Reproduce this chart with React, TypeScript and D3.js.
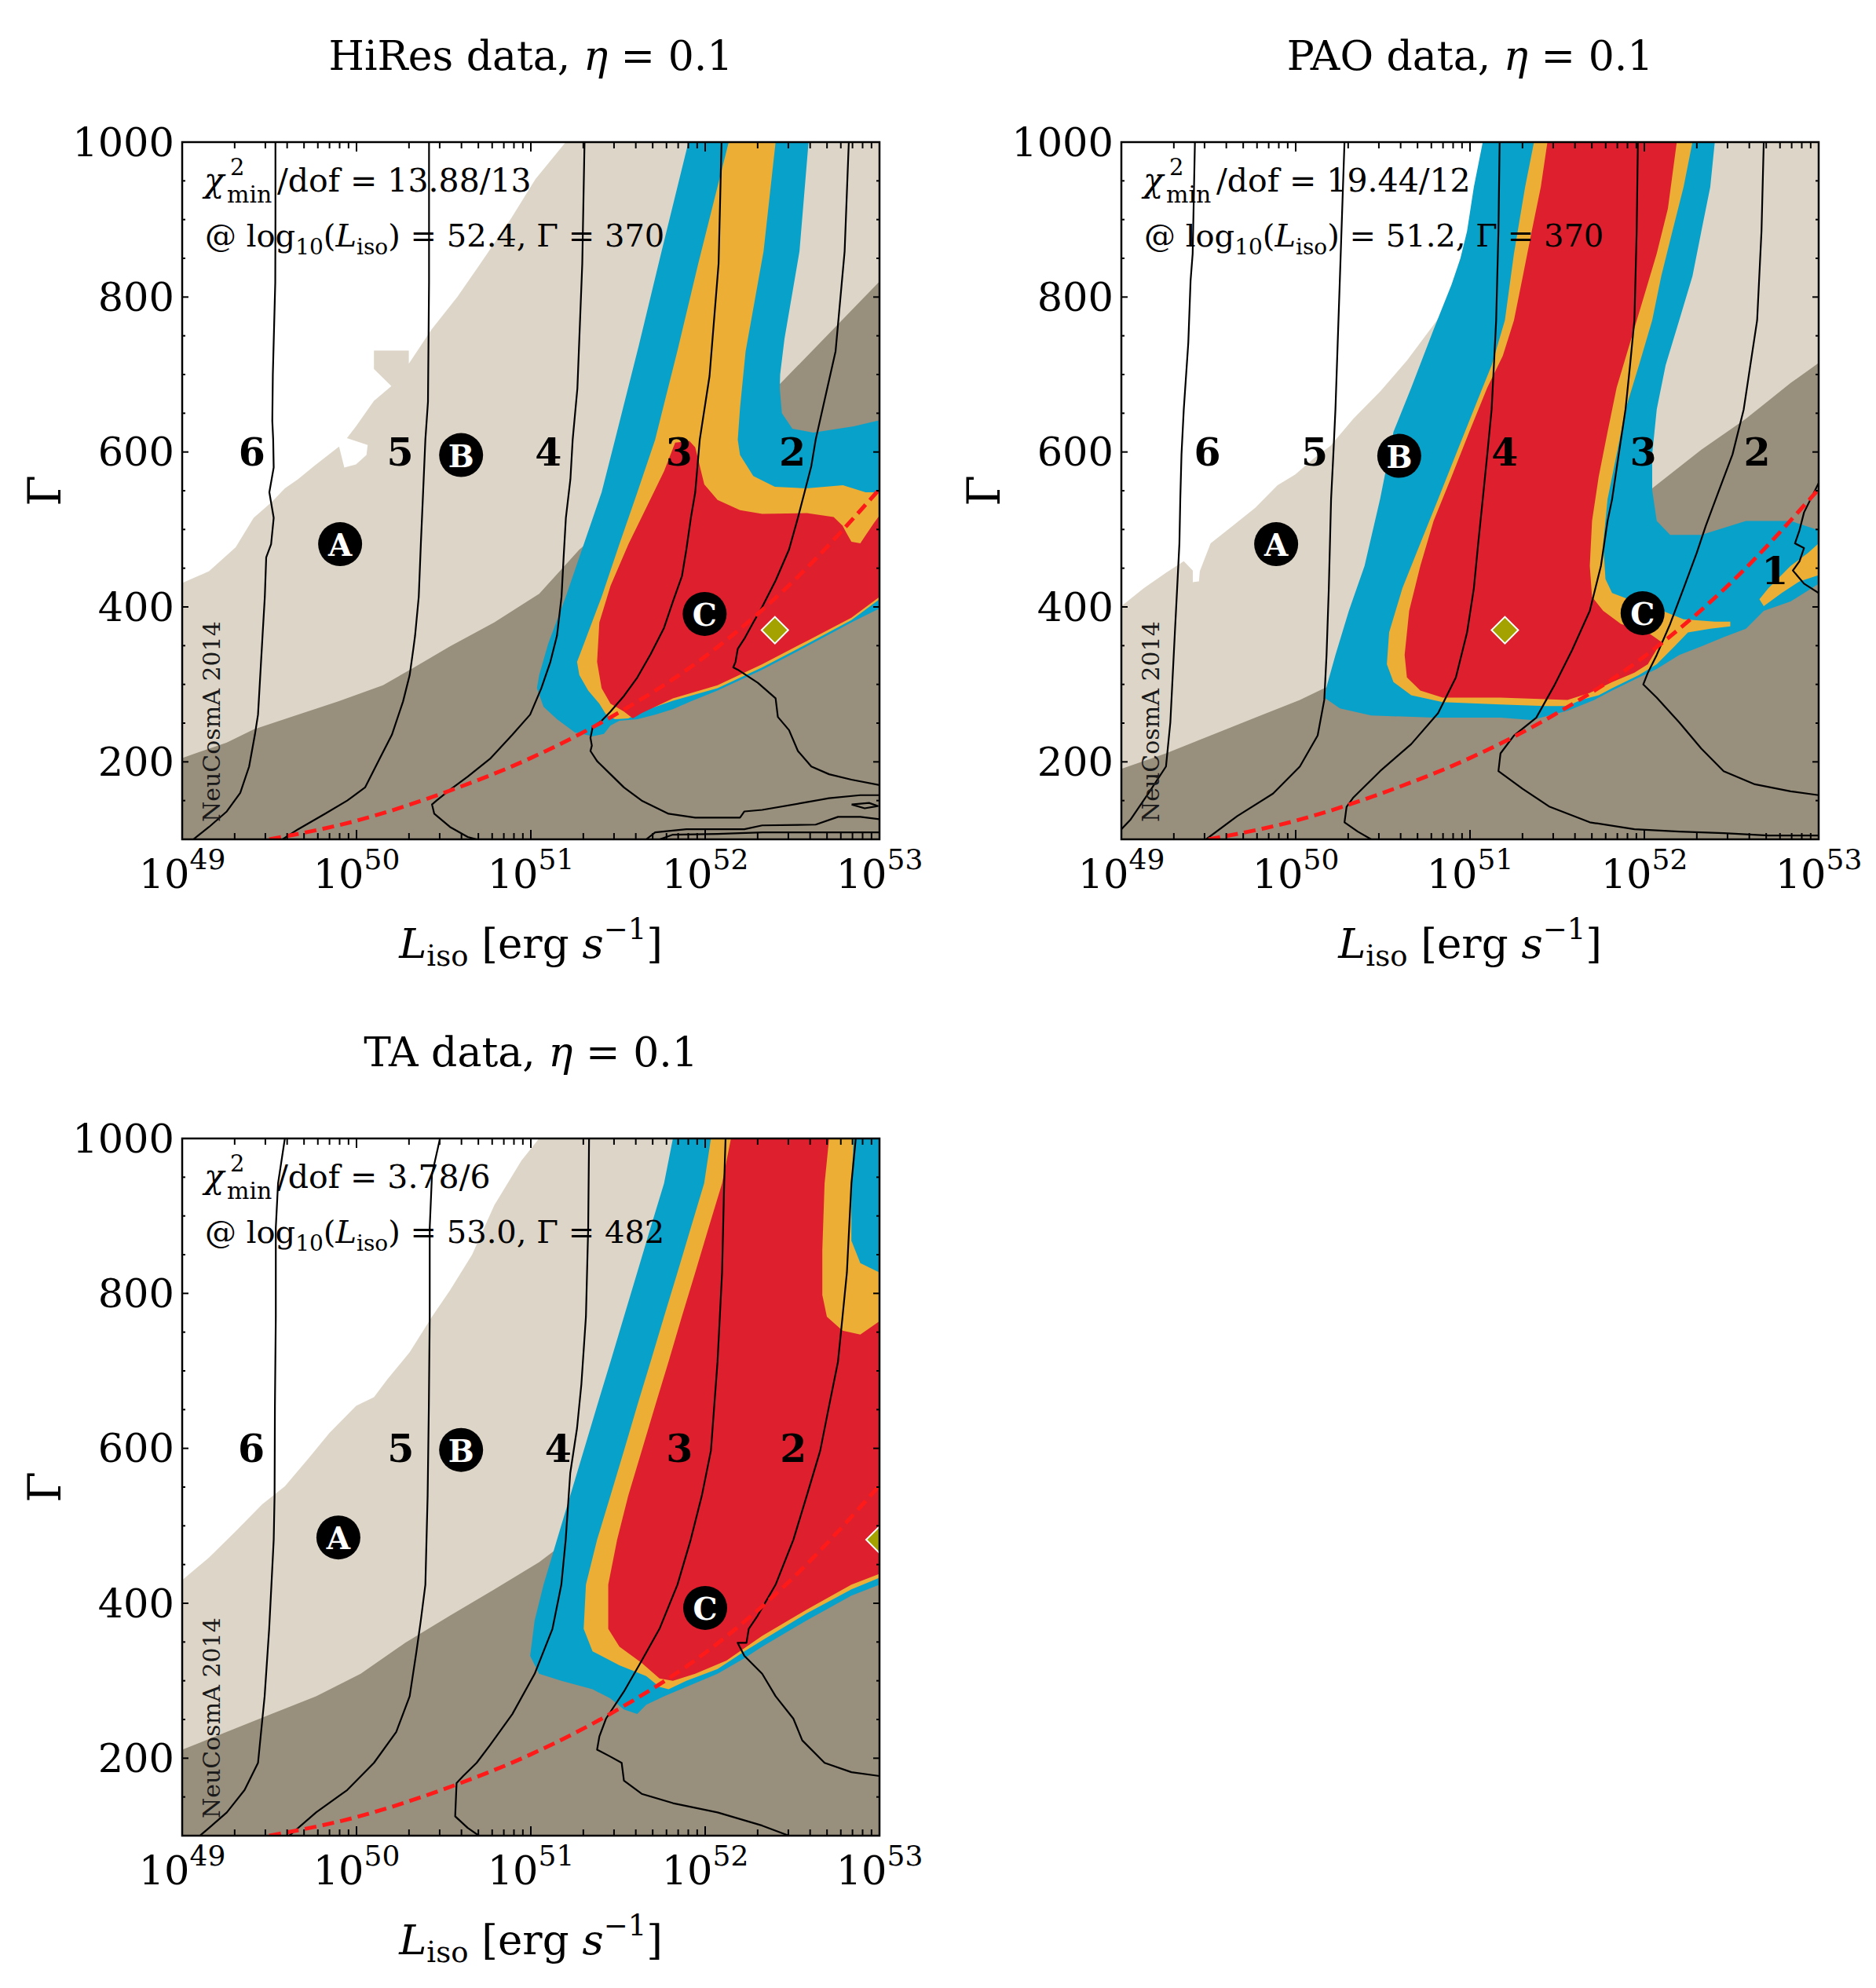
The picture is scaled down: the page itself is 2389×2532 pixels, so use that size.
import { useEffect, useRef } from 'react'
import * as d3 from 'd3'

// points are [log10(L_iso), Gamma]
type Pt = [number, number]
type Tag = [string, number, number]

const FONT = '"DejaVu Serif", "Liberation Serif", serif'
const SIZE = 888

const xDecades = [49, 50, 51, 52, 53]
const yLabels = [200, 400, 600, 800, 1000]
const yTicks = [100, 150, 200, 250, 300, 350, 400, 450, 500, 550, 600, 650, 700, 750, 800, 850, 900, 950, 1000]

// red dashed curve, same in every panel
const dashedCurve: Pt[] = [[49.5, 100], [50, 124], [50.5, 160], [51, 205], [51.5, 263], [52, 336], [52.5, 432], [53, 552]]

// ---------- HiRes ----------
const hiresBeige: Pt[] = [[49, 431], [49.154, 446], [49.307, 477], [49.41, 515], [49.512, 535], [49.589, 553], [49.665, 565], [49.757, 582], [49.9, 607], [49.93, 580], [49.997, 584], [50.057, 596], [50.064, 609], [49.945, 618], [49.997, 633], [50.1, 666], [50.2, 685], [50.1, 707], [50.1, 731], [50.3, 731], [50.3, 714], [50.43, 758], [50.578, 800], [50.716, 845], [50.888, 902], [51.026, 952], [51.2, 1000], [53, 1000], [53, 100], [49, 100]]
const hiresDark: Pt[] = [[49, 100], [49, 205], [49.256, 225], [49.41, 242], [49.64, 259], [49.896, 278], [50.152, 299], [50.331, 322], [50.536, 349], [50.79, 380], [51.048, 417], [51.278, 474], [51.8, 575], [52.43, 688], [53, 820], [53, 100]]
const hiresBlue: Pt[] = [[51.904, 1000], [51.75, 859], [51.62, 738], [51.483, 616], [51.406, 548], [51.304, 481], [51.2, 413], [51.099, 352], [51.048, 312], [51.035, 295], [51.073, 271], [51.15, 255], [51.252, 238], [51.355, 233], [51.419, 236], [51.457, 247], [51.508, 253], [51.611, 255], [51.713, 261], [51.815, 268], [51.918, 278], [52.071, 292], [52.327, 319], [52.583, 349], [52.839, 380], [53, 398], [53, 641], [52.852, 633], [52.62, 625], [52.5, 630], [52.44, 650], [52.428, 682], [52.43, 700], [52.455, 746], [52.541, 859], [52.593, 1000]]
const hiresOrange: Pt[] = [[52.135, 1000], [51.96, 843], [51.84, 730], [51.713, 616], [51.611, 548], [51.508, 481], [51.406, 413], [51.304, 352], [51.265, 329], [51.278, 312], [51.329, 292], [51.393, 275], [51.432, 261], [51.483, 255], [51.56, 256], [51.636, 265], [51.815, 279], [52.071, 295], [52.327, 322], [52.583, 352], [52.839, 383], [53, 410], [53, 548], [52.92, 548], [52.79, 557], [52.58, 553], [52.4, 555], [52.276, 569], [52.2, 596], [52.187, 616], [52.2, 657], [52.232, 730], [52.335, 859], [52.404, 1000]]
const hiresRed: Pt[] = [[51.87, 613], [51.828, 612], [51.764, 575], [51.662, 528], [51.56, 481], [51.457, 427], [51.393, 380], [51.38, 329], [51.406, 295], [51.457, 275], [51.534, 265], [51.585, 256], [51.636, 263], [51.815, 282], [52.071, 299], [52.327, 326], [52.583, 356], [52.839, 386], [53, 413], [53, 518], [52.967, 508], [52.916, 491], [52.89, 482], [52.839, 484], [52.814, 494], [52.788, 505], [52.737, 516], [52.583, 521], [52.327, 520], [52.2, 525], [52.071, 538], [51.995, 558], [51.969, 582], [51.943, 606], [51.91, 614]]

const hiresC6: Pt[] = [[49.535, 1000], [49.535, 900], [49.534, 819], [49.52, 700], [49.517, 640], [49.522, 616], [49.525, 580], [49.5, 548], [49.525, 515], [49.51, 481], [49.482, 464], [49.474, 413], [49.461, 363], [49.448, 312], [49.435, 261], [49.417, 235], [49.384, 194], [49.333, 160], [49.256, 136], [49.154, 116], [49.064, 100]]
const hiresC5: Pt[] = [[50.416, 1000], [50.416, 819], [50.41, 665], [50.395, 616], [50.382, 548], [50.369, 481], [50.357, 413], [50.336, 363], [50.326, 346], [50.305, 312], [50.267, 278], [50.203, 235], [50.126, 201], [50.049, 167], [49.947, 150], [49.819, 133], [49.665, 113], [49.576, 100]]
const hiresC4: Pt[] = [[51.308, 1000], [51.295, 843], [51.267, 682], [51.24, 616], [51.227, 565], [51.201, 515], [51.188, 464], [51.176, 413], [51.15, 363], [51.112, 329], [51.06, 295], [50.996, 261], [50.894, 235], [50.766, 204], [50.638, 181], [50.536, 164], [50.459, 150], [50.433, 145], [50.446, 133], [50.536, 116], [50.638, 103], [50.689, 100]]
const hiresC3: Pt[] = [[52.094, 1000], [52.077, 843], [52.025, 698], [51.969, 616], [51.956, 582], [51.943, 548], [51.918, 515], [51.892, 474], [51.867, 440], [51.815, 407], [51.764, 373], [51.687, 339], [51.611, 309], [51.534, 285], [51.457, 265], [51.406, 253], [51.355, 245], [51.342, 231], [51.35, 221], [51.342, 214], [51.38, 201], [51.457, 184], [51.534, 167], [51.636, 150], [51.79, 133], [51.943, 128], [52.2, 128], [52.225, 136], [52.327, 138], [52.583, 148], [52.71, 153], [52.89, 157], [53, 157]]
const hiresC2: Pt[] = [[52.824, 1000], [52.8, 859], [52.748, 730], [52.634, 616], [52.609, 582], [52.57, 548], [52.532, 515], [52.481, 474], [52.404, 434], [52.327, 400], [52.276, 380], [52.225, 359], [52.187, 346], [52.174, 329], [52.161, 322], [52.187, 319], [52.302, 302], [52.404, 282], [52.417, 258], [52.481, 241], [52.532, 214], [52.609, 194], [52.711, 184], [52.839, 177], [53, 170]]
const hiresLowA: Pt[] = [[51.662, 100], [51.713, 109], [51.892, 113], [52.225, 113], [52.327, 118], [52.634, 119], [52.762, 129], [52.89, 129], [53, 126]]
const hiresLowB: Pt[] = [[51.74, 100], [51.815, 106], [52.07, 107], [52.33, 109], [53, 109]]
const hiresLoop: Pt[] = [[52.84, 145], [52.94, 147], [52.99, 143], [52.915, 140], [52.84, 145]]

const hiresNumbers: Tag[] = [['6', 49.40, 600], ['5', 50.25, 600], ['4', 51.10, 600], ['3', 51.85, 600], ['2', 52.50, 600]]
const hiresCircles: Tag[] = [['A', 49.906, 481], ['B', 50.60, 596], ['C', 51.997, 391]]
const hiresFit: Pt = [52.4, 370]

// ---------- PAO ----------
const paoBeige: Pt[] = [[49, 401], [49.128, 424], [49.256, 444], [49.358, 459], [49.41, 447], [49.41, 432], [49.445, 433], [49.45, 446], [49.512, 482], [49.64, 505], [49.768, 528], [49.896, 557], [49.998, 571], [50.1, 591], [50.2, 608], [50.331, 643], [50.484, 678], [50.638, 718], [50.791, 764], [50.919, 804], [50.97, 840], [51.05, 885], [51.25, 1000], [53, 1000], [53, 100], [49, 100]]
const paoDark: Pt[] = [[49, 100], [49, 191], [49.256, 211], [49.512, 234], [49.768, 257], [50.024, 280], [50.164, 295], [51, 360], [51.6, 450], [52.045, 553], [52.327, 603], [52.583, 643], [52.839, 689], [53, 715], [53, 100]]
const paoBlue: Pt[] = [[51.073, 1000], [51.022, 942], [50.983, 885], [50.945, 850], [50.894, 816], [50.791, 758], [50.663, 683], [50.561, 626], [50.484, 539], [50.395, 453], [50.305, 395], [50.228, 338], [50.177, 297], [50.164, 283], [50.254, 269], [50.433, 260], [50.791, 257], [51.175, 257], [51.354, 254], [51.406, 257], [51.56, 266], [51.713, 280], [51.815, 292], [51.969, 309], [52.071, 320], [52.2, 338], [52.327, 349], [52.455, 361], [52.583, 372], [52.685, 395], [52.839, 407], [53, 430], [53, 499], [52.839, 511], [52.583, 511], [52.327, 493], [52.148, 493], [52.071, 511], [52.045, 551], [52.045, 597], [52.071, 655], [52.122, 712], [52.2, 770], [52.276, 827], [52.327, 885], [52.378, 942], [52.404, 1000]]
const paoOrange: Pt[] = [[51.367, 1000], [51.316, 942], [51.252, 856], [51.2, 770], [51.124, 712], [51.022, 655], [50.919, 597], [50.817, 539], [50.715, 482], [50.612, 424], [50.536, 367], [50.523, 326], [50.561, 303], [50.663, 286], [50.843, 277], [51.175, 274], [51.431, 272], [51.559, 272], [51.636, 280], [51.738, 286], [51.815, 295], [51.969, 312], [52.071, 326], [52.173, 349], [52.25, 367], [52.378, 372], [52.493, 375], [52.493, 381], [52.404, 381], [52.225, 384], [52.071, 398], [51.943, 407], [51.815, 418], [51.777, 436], [51.764, 482], [51.789, 539], [51.841, 597], [51.892, 655], [51.969, 712], [52.045, 770], [52.097, 827], [52.161, 885], [52.225, 942], [52.276, 1000]]
const paoRed: Pt[] = [[51.444, 1000], [51.406, 942], [51.354, 885], [51.303, 827], [51.252, 770], [51.188, 724], [51.099, 683], [50.996, 626], [50.894, 568], [50.791, 511], [50.715, 453], [50.651, 395], [50.625, 338], [50.638, 309], [50.715, 292], [50.843, 283], [51.175, 283], [51.559, 280], [51.687, 289], [51.815, 303], [51.943, 315], [52.02, 326], [52.097, 355], [52.02, 367], [51.866, 378], [51.764, 395], [51.7, 413], [51.687, 453], [51.7, 511], [51.738, 568], [51.789, 626], [51.841, 683], [51.918, 741], [51.994, 798], [52.071, 856], [52.135, 914], [52.186, 1000]]
const paoOrangeEdge: Pt[] = [[52.66, 410], [52.711, 424], [52.839, 453], [52.94, 470], [53, 482], [53, 441], [52.89, 433], [52.788, 418], [52.685, 401]]

const paoC6: Pt[] = [[49.422, 1000], [49.409, 856], [49.397, 821], [49.384, 741], [49.358, 655], [49.345, 597], [49.338, 539], [49.333, 482], [49.32, 424], [49.307, 367], [49.294, 309], [49.281, 251], [49.256, 194], [49.154, 159], [49.051, 125], [49, 113]]
const paoC5: Pt[] = [[50.28, 1000], [50.267, 914], [50.254, 827], [50.241, 741], [50.228, 655], [50.216, 597], [50.203, 539], [50.19, 424], [50.177, 338], [50.164, 280], [50.126, 234], [50.024, 194], [49.87, 159], [49.665, 130], [49.486, 100]]
const paoC4: Pt[] = [[51.17, 1000], [51.163, 885], [51.15, 770], [51.137, 712], [51.124, 655], [51.099, 597], [51.073, 539], [51.047, 482], [51.022, 424], [50.983, 367], [50.919, 309], [50.817, 263], [50.663, 223], [50.484, 188], [50.331, 154], [50.292, 142], [50.28, 122], [50.356, 110], [50.433, 100]]
const paoC3: Pt[] = [[51.963, 1000], [51.956, 885], [51.943, 770], [51.918, 712], [51.892, 655], [51.853, 597], [51.815, 539], [51.789, 511], [51.751, 453], [51.687, 395], [51.585, 344], [51.482, 298], [51.38, 257], [51.252, 234], [51.175, 211], [51.163, 188], [51.2, 182], [51.303, 165], [51.457, 142], [51.687, 122], [51.943, 113], [52.2, 110], [52.455, 108], [52.711, 105], [53, 105]]
const paoC2: Pt[] = [[52.685, 1000], [52.672, 885], [52.647, 770], [52.608, 712], [52.57, 655], [52.506, 597], [52.429, 551], [52.353, 505], [52.301, 470], [52.225, 424], [52.148, 378], [52.071, 338], [52.02, 315], [51.994, 300], [52.071, 283], [52.2, 251], [52.327, 217], [52.455, 188], [52.634, 171], [52.839, 162], [53, 157]]
const paoC1: Pt[] = [[53, 560], [52.916, 522], [52.89, 499], [52.864, 482], [52.916, 476], [52.89, 459], [52.852, 447], [52.916, 430], [53, 418]]

const paoNumbers: Tag[] = [['6', 49.494, 600], ['5', 50.108, 600], ['4', 51.2, 600], ['3', 51.994, 600], ['2', 52.647, 600], ['1', 52.749, 447]]
const paoCircles: Tag[] = [['A', 49.888, 481], ['B', 50.594, 595], ['C', 51.99, 392]]
const paoFit: Pt = [51.2, 370]

// ---------- TA ----------
const taBeige: Pt[] = [[49, 430], [49.154, 459], [49.307, 493], [49.46, 528], [49.589, 551], [49.717, 585], [49.845, 620], [49.998, 655], [50.1, 666], [50.177, 689], [50.305, 724], [50.433, 770], [50.536, 804], [50.663, 850], [50.791, 914], [50.945, 971], [51.047, 1000], [53, 1000], [53, 100], [49, 100]]
const taDark: Pt[] = [[49, 100], [49, 211], [49.256, 234], [49.512, 257], [49.768, 280], [50.024, 309], [50.28, 349], [50.536, 384], [50.791, 418], [51.047, 453], [51.2, 479], [52, 620], [53, 700], [53, 100]]
const taBlue: Pt[] = [[51.815, 1000], [51.764, 942], [51.687, 885], [51.61, 827], [51.534, 770], [51.457, 712], [51.38, 655], [51.303, 597], [51.226, 539], [51.15, 482], [51.073, 424], [51.022, 378], [50.996, 332], [51.047, 309], [51.175, 300], [51.354, 289], [51.457, 277], [51.534, 263], [51.61, 257], [51.662, 269], [51.764, 280], [51.892, 292], [52.071, 309], [52.225, 329], [52.327, 344], [52.583, 378], [52.839, 410], [53, 424], [53, 1000]]
const taOrange: Pt[] = [[52.033, 1000], [51.994, 942], [51.918, 885], [51.841, 827], [51.764, 770], [51.687, 712], [51.61, 655], [51.534, 597], [51.457, 539], [51.38, 482], [51.316, 424], [51.303, 367], [51.354, 338], [51.508, 320], [51.662, 306], [51.738, 292], [51.79, 289], [51.892, 300], [52.071, 315], [52.225, 338], [52.327, 352], [52.583, 387], [52.839, 418], [53, 433], [53, 1000]]
const taRed: Pt[] = [[52.148, 1000], [52.097, 942], [52.02, 885], [51.943, 827], [51.866, 770], [51.79, 712], [51.713, 655], [51.636, 597], [51.559, 539], [51.495, 482], [51.444, 424], [51.444, 367], [51.508, 344], [51.636, 323], [51.738, 303], [51.815, 300], [51.943, 309], [52.122, 326], [52.327, 358], [52.583, 392], [52.839, 424], [53, 438], [53, 1000]]
const taOrangePocket: Pt[] = [[52.711, 1000], [52.685, 942], [52.672, 856], [52.672, 798], [52.698, 770], [52.788, 752], [52.89, 747], [53, 764], [53, 1000]]
const taBluePocket: Pt[] = [[52.852, 1000], [52.839, 942], [52.839, 868], [52.89, 839], [53, 827], [53, 1000]]

const taC6: Pt[] = [[49.589, 1000], [49.55, 942], [49.537, 885], [49.537, 770], [49.532, 655], [49.53, 539], [49.525, 482], [49.512, 424], [49.499, 367], [49.473, 280], [49.435, 194], [49.358, 159], [49.256, 130], [49.154, 110], [49.102, 100]]
const taC5: Pt[] = [[50.479, 1000], [50.433, 954], [50.42, 885], [50.42, 770], [50.415, 655], [50.408, 539], [50.395, 424], [50.369, 378], [50.344, 338], [50.305, 280], [50.228, 234], [50.1, 194], [49.947, 159], [49.768, 130], [49.614, 100]]
const taC4: Pt[] = [[51.334, 1000], [51.329, 885], [51.316, 770], [51.29, 683], [51.265, 626], [51.226, 568], [51.2, 482], [51.175, 424], [51.124, 367], [51.022, 309], [50.894, 257], [50.766, 217], [50.689, 194], [50.612, 177], [50.574, 168], [50.566, 125], [50.638, 110], [50.702, 100]]
const taC3: Pt[] = [[52.117, 1000], [52.109, 942], [52.097, 827], [52.071, 712], [52.033, 597], [51.981, 539], [51.917, 482], [51.841, 424], [51.738, 367], [51.636, 326], [51.534, 286], [51.431, 251], [51.393, 228], [51.38, 211], [51.457, 202], [51.521, 194], [51.534, 171], [51.636, 154], [51.815, 142], [52.071, 130], [52.327, 113], [52.48, 100]]
const taC2: Pt[] = [[52.864, 1000], [52.839, 942], [52.826, 885], [52.813, 827], [52.788, 770], [52.762, 712], [52.711, 655], [52.66, 597], [52.583, 539], [52.506, 482], [52.404, 424], [52.301, 384], [52.25, 367], [52.237, 349], [52.186, 349], [52.225, 332], [52.327, 309], [52.404, 280], [52.506, 251], [52.557, 223], [52.685, 194], [52.839, 182], [53, 177]]

const taNumbers: Tag[] = [['6', 49.397, 600], ['5', 50.254, 600], ['4', 51.157, 600], ['3', 51.853, 600], ['2', 52.506, 600]]
const taCircles: Tag[] = [['A', 49.896, 485], ['B', 50.6, 598], ['C', 52.0, 394]]
const taFit: Pt = [53.0, 482]

const COLORS = {
  beige: '#ddd6c8',
  dark: '#988f7d',
  blue: '#08a1ca',
  orange: '#ecae35',
  red: '#de1f2e',
}

const panels = [
  {
    id: 'hires', name: 'HiRes', left: 232, top: 181,
    regions: [[hiresBeige, COLORS.beige], [hiresDark, COLORS.dark], [hiresBlue, COLORS.blue], [hiresOrange, COLORS.orange], [hiresRed, COLORS.red]],
    contours: [hiresC6, hiresC5, hiresC4, hiresC3, hiresC2, hiresLowA, hiresLowB, hiresLoop],
    numbers: hiresNumbers, circles: hiresCircles, fit: hiresFit,
    chi: '13.88/13', fitL: '52.4', fitG: '370',
  },
  {
    id: 'pao', name: 'PAO', left: 1428, top: 181,
    regions: [[paoBeige, COLORS.beige], [paoDark, COLORS.dark], [paoBlue, COLORS.blue], [paoOrange, COLORS.orange], [paoRed, COLORS.red], [paoOrangeEdge, COLORS.orange]],
    contours: [paoC6, paoC5, paoC4, paoC3, paoC2, paoC1],
    numbers: paoNumbers, circles: paoCircles, fit: paoFit,
    chi: '19.44/12', fitL: '51.2', fitG: '370',
  },
  {
    id: 'ta', name: 'TA', left: 232, top: 1450,
    regions: [[taBeige, COLORS.beige], [taDark, COLORS.dark], [taBlue, COLORS.blue], [taOrange, COLORS.orange], [taRed, COLORS.red], [taOrangePocket, COLORS.orange], [taBluePocket, COLORS.blue]],
    contours: [taC6, taC5, taC4, taC3, taC2],
    numbers: taNumbers, circles: taCircles, fit: taFit,
    chi: '3.78/6', fitL: '53.0', fitG: '482',
  },
]

function drawPanel(svg: any, p: any) {
  const g = svg.append('g').attr('transform', `translate(${p.left},${p.top})`)

  const x = d3.scaleLog().domain([1e49, 1e53]).range([0, SIZE])
  const y = d3.scaleLinear().domain([100, 1000]).range([SIZE, 0])
  const px = (d: Pt) => x(Math.pow(10, d[0]))
  const py = (d: Pt) => y(d[1])

  const area = d3.line<Pt>().x(px).y(py).curve(d3.curveLinearClosed)
  const path = d3.line<Pt>().x(px).y(py)
  const smooth = d3.line<Pt>().x(px).y(py).curve(d3.curveMonotoneX)

  g.append('clipPath').attr('id', `clip-${p.id}`)
    .append('rect').attr('width', SIZE).attr('height', SIZE)

  const plot = g.append('g').attr('clip-path', `url(#clip-${p.id})`)
  plot.append('rect').attr('width', SIZE).attr('height', SIZE).attr('fill', '#fff')

  // filled confidence / exclusion regions
  p.regions.forEach(([pts, color]: [Pt[], string]) => {
    plot.append('path').attr('d', area(pts)).attr('fill', color)
  })

  // neutrino number contours
  p.contours.forEach((pts: Pt[]) => {
    plot.append('path').attr('d', path(pts))
      .attr('fill', 'none').attr('stroke', '#000').attr('stroke-width', 2.2)
      .attr('stroke-linejoin', 'round')
  })

  plot.append('path').attr('d', smooth(dashedCurve))
    .attr('fill', 'none').attr('stroke', '#ff1a1a').attr('stroke-width', 5)
    .attr('stroke-dasharray', '15 8')

  // best fit
  plot.append('path')
    .attr('d', d3.symbol(d3.symbolSquare).size(24 * 24)())
    .attr('transform', `translate(${px(p.fit)},${py(p.fit)}) rotate(45)`)
    .attr('fill', '#a4a200').attr('stroke', '#fff').attr('stroke-width', 2)

  // labels
  p.numbers.forEach(([t, l, gm]: Tag) => {
    plot.append('text').attr('x', px([l, gm])).attr('y', py([l, gm]))
      .attr('text-anchor', 'middle').attr('dominant-baseline', 'central')
      .attr('font-family', FONT).attr('font-weight', 'bold').attr('font-size', 49)
      .text(t)
  })
  p.circles.forEach(([t, l, gm]: Tag) => {
    plot.append('circle').attr('cx', px([l, gm])).attr('cy', py([l, gm])).attr('r', 28).attr('fill', '#000')
    plot.append('text').attr('x', px([l, gm])).attr('y', py([l, gm]) + 1)
      .attr('text-anchor', 'middle').attr('dominant-baseline', 'central')
      .attr('font-family', FONT).attr('font-weight', 'bold').attr('font-size', 39)
      .attr('fill', '#fff').text(t)
  })

  // fit info text
  const info = g.append('g').attr('font-family', FONT).attr('fill', '#000')
  info.append('text').attr('x', 28).attr('y', 63).attr('font-size', 42).attr('font-style', 'italic').text('χ')
  info.append('text').attr('x', 61).attr('y', 42).attr('font-size', 29).text('2')
  info.append('text').attr('x', 57).attr('y', 77).attr('font-size', 30).text('min')
  info.append('text').attr('x', 121).attr('y', 63).attr('font-size', 41).text(`/dof = ${p.chi}`)
  const t2 = info.append('text').attr('x', 29).attr('y', 133).attr('font-size', 40).style('white-space', 'pre')
  t2.append('tspan').text('@ log')
  t2.append('tspan').attr('font-size', 28).attr('dy', 10).text('10')
  t2.append('tspan').attr('dy', -10).text('(')
  t2.append('tspan').attr('font-style', 'italic').text('L')
  t2.append('tspan').attr('font-size', 28).attr('dy', 10).text('iso')
  t2.append('tspan').attr('dy', -10).text(`) = ${p.fitL}, Γ = ${p.fitG}`)

  info.append('text')
    .attr('transform', `translate(48,${SIZE - 22}) rotate(-90)`)
    .attr('font-size', 30).attr('fill', '#1a1a1a')
    .text('NeuCosmA 2014')

  // frame and ticks
  const axes = g.append('g').attr('stroke', '#000').attr('stroke-width', 2)
  x.ticks().forEach((t: number) => {
    const lg = Math.log10(t)
    const major = Math.abs(lg - Math.round(lg)) < 1e-6
    const len = major ? 12 : 8
    const xx = x(t)
    axes.append('line').attr('x1', xx).attr('x2', xx).attr('y1', SIZE).attr('y2', SIZE - len)
    axes.append('line').attr('x1', xx).attr('x2', xx).attr('y1', 0).attr('y2', len)
  })
  yTicks.forEach(t => {
    const len = t % 200 === 0 ? 8 : 4
    const yy = y(t)
    axes.append('line').attr('x1', 0).attr('x2', len).attr('y1', yy).attr('y2', yy)
    axes.append('line').attr('x1', SIZE).attr('x2', SIZE - len).attr('y1', yy).attr('y2', yy)
  })
  axes.append('rect').attr('width', SIZE).attr('height', SIZE)
    .attr('fill', 'none').attr('stroke-width', 2.5)

  const labels = g.append('g').attr('font-family', FONT).attr('fill', '#000')
  yLabels.forEach(v => {
    labels.append('text').attr('x', -10).attr('y', y(v))
      .attr('text-anchor', 'end').attr('dominant-baseline', 'central')
      .attr('font-size', 51).text(v)
  })
  xDecades.forEach(d => {
    const t = labels.append('text').attr('x', x(Math.pow(10, d))).attr('y', SIZE + 62)
      .attr('text-anchor', 'middle').attr('font-size', 51)
    t.append('tspan').text('10')
    t.append('tspan').attr('font-size', 36).attr('dy', -24).text(d)
  })

  const xl = labels.append('text').attr('x', SIZE / 2).attr('y', SIZE + 151)
    .attr('text-anchor', 'middle').attr('font-size', 53).style('white-space', 'pre')
  xl.append('tspan').attr('font-style', 'italic').text('L')
  xl.append('tspan').attr('font-size', 37).attr('dy', 10).text('iso')
  xl.append('tspan').attr('dy', -10).text(' [erg ')
  xl.append('tspan').attr('font-style', 'italic').text('s')
  xl.append('tspan').attr('font-size', 37).attr('dy', -24).text('−1')
  xl.append('tspan').attr('dy', 24).text(']')

  labels.append('text')
    .attr('transform', `translate(-175,${SIZE / 2}) rotate(-90)`)
    .attr('text-anchor', 'middle').attr('dominant-baseline', 'central')
    .attr('font-size', 57).text('Γ')

  const title = labels.append('text').attr('x', SIZE / 2).attr('y', -92)
    .attr('text-anchor', 'middle').attr('font-size', 52).style('white-space', 'pre')
  title.append('tspan').text(`${p.name} data, `)
  title.append('tspan').attr('font-style', 'italic').text('η')
  title.append('tspan').text(' = 0.1')
}

export default function App() {
  const svgRef = useRef<SVGSVGElement>(null)

  useEffect(() => {
    if (!svgRef.current) return
    const svg = d3.select(svgRef.current)
    svg.selectAll('*').remove()
    panels.forEach(p => drawPanel(svg, p))
  }, [])

  return (
    <svg
      ref={svgRef}
      width={2389}
      height={2532}
      style={{ position: 'absolute', left: 0, top: 0, background: '#fff' }}
    />
  )
}
